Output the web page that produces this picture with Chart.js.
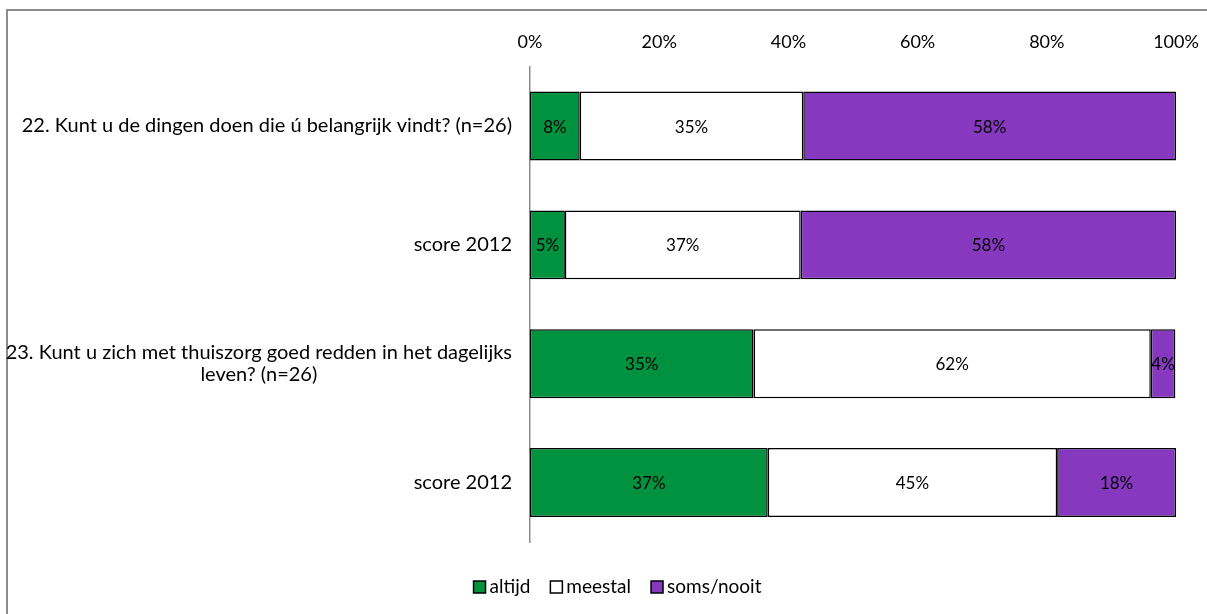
<!DOCTYPE html>
<html>
<head>
<meta charset="utf-8">
<script src="https://cdn.jsdelivr.net/npm/chart.js@4"></script>
<style>
  html, body { margin: 0; padding: 0; background: #fff; overflow: hidden; }
  #wrap { position: relative; width: 1207px; height: 614px; }
  #frame { position: absolute; left: 6px; top: 9px; width: 1400px; height: 800px; border: 2px solid #8c8c8c; box-sizing: border-box; }
  canvas { position: absolute; left: 0; top: 0; }
</style>
</head>
<body>
<div id="wrap">
  <div id="frame"></div>
  <canvas id="chart" width="1207" height="614"></canvas>
</div>
<script>
// --- Data ---
const categories = [
  ["22. Kunt u de dingen doen die ú belangrijk vindt? (n=26)"],
  ["score 2012"],
  ["23. Kunt u zich met thuiszorg goed redden in het dagelijks", "leven? (n=26)"],
  ["score 2012"]
];
const altijd = [7.7, 5.4, 34.6, 36.8];
const meestal = [34.6, 36.5, 61.5, 44.8];
const somsNooit = [57.7, 58.1, 3.8, 18.4];
const xTicks = [0, 20, 40, 60, 80, 100];

const FONT = "Lato, 'Open Sans', sans-serif";

// draws the percentage inside each bar segment
const barLabels = {
  id: "barLabels",
  afterDatasetsDraw(chart) {
    const ctx = chart.ctx;
    ctx.save();
    ctx.font = "17px " + FONT;
    ctx.fillStyle = "#000";
    ctx.textAlign = "center";
    ctx.textBaseline = "middle";
    chart.data.datasets.forEach((ds, i) => {
      chart.getDatasetMeta(i).data.forEach((el, j) => {
        const cx = (el.x + el.base) / 2;
        ctx.fillText(Math.round(ds.data[j]) + "%", cx, el.y + 1);
      });
    });
    ctx.restore();
  }
};

// category labels: block right-aligned, lines centred on each other
const yLabels = {
  id: "yLabels",
  afterDraw(chart) {
    const ctx = chart.ctx;
    const scale = chart.scales.y;
    ctx.save();
    ctx.font = "20px " + FONT;
    ctx.fillStyle = "#000";
    ctx.textAlign = "center";
    ctx.textBaseline = "middle";
    const right = 512;
    const lineH = 22;
    categories.forEach((lines, i) => {
      const y = scale.getPixelForValue(i);
      const w = Math.max(...lines.map((l) => ctx.measureText(l).width));
      const cx = right - w / 2;
      const top = y - ((lines.length - 1) * lineH) / 2;
      lines.forEach((l, k) => ctx.fillText(l, cx, top + k * lineH));
    });
    ctx.restore();
  }
};

// legend at the bottom, Excel style (small box, tight gap to text)
const bottomLegend = {
  id: "bottomLegend",
  afterDraw(chart) {
    const ctx = chart.ctx;
    const box = 12, gap = 4, spacing = 20;
    ctx.save();
    ctx.font = "19px " + FONT;
    ctx.textBaseline = "middle";
    const items = chart.data.datasets.map((ds) => ({
      text: ds.label,
      color: ds.backgroundColor,
      w: box + gap + ctx.measureText(ds.label).width
    }));
    const total = items.reduce((s, it) => s + it.w, 0) + spacing * (items.length - 1);
    let x = chart.width / 2 + 14 - total / 2;
    const y = chart.height - 27;
    items.forEach((it) => {
      ctx.fillStyle = it.color;
      ctx.fillRect(x, y - box / 2, box, box);
      ctx.strokeStyle = "#000";
      ctx.lineWidth = 1.5;
      ctx.strokeRect(x, y - box / 2, box, box);
      ctx.fillStyle = "#000";
      ctx.textAlign = "left";
      ctx.fillText(it.text, x + box + gap, y);
      x += it.w + spacing;
    });
    ctx.restore();
  }
};

new Chart(document.getElementById("chart"), {
  type: "bar",
  data: {
    labels: categories,
    datasets: [
      { label: "altijd", data: altijd, backgroundColor: "#00923f" },
      { label: "meestal", data: meestal, backgroundColor: "#ffffff" },
      { label: "soms/nooit", data: somsNooit, backgroundColor: "#8639bf" }
    ].map((d) => Object.assign(d, {
      borderColor: "#000",
      borderWidth: 1.5,
      borderSkipped: false,
      barPercentage: 0.58,
      categoryPercentage: 1
    }))
  },
  options: {
    indexAxis: "y",
    responsive: false,
    animation: false,
    layout: { padding: { top: 17, right: 31, left: 0, bottom: 72 } },
    scales: {
      x: {
        position: "top",
        stacked: true,
        min: 0,
        max: 100,
        afterBuildTicks: (scale) => {
          scale.ticks = xTicks.map((v) => ({ value: v }));
        },
        // the 100% label may hang over the right edge, like the original
        afterFit: (scale) => {
          scale.paddingRight = 0;
          scale.paddingLeft = 0;
        },
        grid: { display: false, drawTicks: false },
        border: { display: false },
        ticks: {
          padding: 14,
          color: "#000",
          font: { family: FONT, size: 18 },
          callback: (v) => v + "%"
        }
      },
      y: {
        stacked: true,
        grid: { display: false, drawTicks: false },
        border: { display: true, color: "#8c8c8c", width: 1.5 },
        ticks: { color: "transparent", font: { family: FONT, size: 17 } },
        afterFit: (scale) => { scale.width = 530; }
      }
    },
    plugins: {
      legend: { display: false },
      tooltip: { enabled: false }
    }
  },
  plugins: [barLabels, yLabels, bottomLegend]
});
</script>
</body>
</html>
